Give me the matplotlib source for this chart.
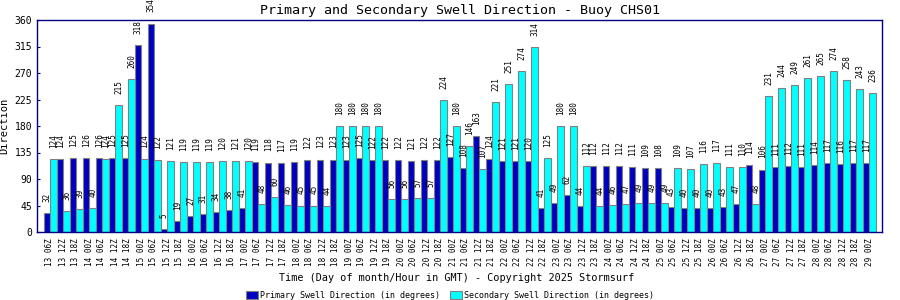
import matplotlib
matplotlib.use("Agg")
import matplotlib.pyplot as plt
from matplotlib.patches import Patch
import numpy as np

days = [13]*3 + [d for d in range(14, 29) for _ in range(4)] + [29]
hours = ["06Z", "12Z", "18Z"] + ["00Z", "06Z", "12Z", "18Z"]*15 + ["00Z"]
tick_labels = [f"{d} {h}" for d, h in zip(days, hours)]

primary = [32, 124, 125, 126, 126, 125, 125, 318, 354, 5, 19, 27, 31, 34, 38, 41,
           119, 118, 117, 119, 122, 123, 123, 123, 125, 122, 122, 122, 121, 122, 122, 127,
           108, 163, 124, 121, 121, 120, 41, 49, 62, 44, 112, 112, 112, 111, 109, 108,
           43, 40, 40, 40, 43, 47, 114, 106, 111, 112, 111, 114, 117, 116, 117, 117]
secondary = [124, 36, 39, 40, 124, 215, 260, 124, 122, 121, 119, 119, 119, 120, 121, 120,
             48, 60, 46, 45, 45, 44, 180, 180, 180, 180, 56, 56, 57, 57, 224, 180,
             146, 107, 221, 251, 274, 314, 125, 180, 180, 112, 44, 46, 47, 49, 49, 49,
             109, 107, 116, 117, 111, 110, 48, 231, 244, 249, 261, 265, 274, 258, 243, 236]

BLUE = "#0000C0"
CYAN = "#00FFFF"
EDGE = "#808080"
NAVY = "#000080"
MONO = "DejaVu Sans Mono"

fig = plt.figure(figsize=(9, 3), dpi=100)
ax = fig.add_axes([37/900, 1-232/300, (882-37)/900, (232-20)/300])

x = np.arange(len(tick_labels))
w = 0.5
b1 = ax.bar(x - w/2, primary, width=w, color=BLUE, edgecolor=EDGE, linewidth=0.8)
b2 = ax.bar(x + w/2, secondary, width=w, color=CYAN, edgecolor=EDGE, linewidth=0.8)

for bars, vals in ((b1, primary), (b2, secondary)):
    for rect, v in zip(bars, vals):
        ax.annotate(str(v), (rect.get_x() + rect.get_width()/2, v),
                    xytext=(0.5, 8), textcoords="offset points",
                    rotation=90, ha="center", va="bottom",
                    fontsize=5.5, family=MONO, color="black", annotation_clip=False)

ax.set_xlim(-1, 64)
ax.set_ylim(0, 360)
ax.set_yticks(np.arange(0, 361, 45))
ax.set_xticks(x)
ax.set_xticklabels(tick_labels, rotation=90, fontsize=5.5, family=MONO)
ax.tick_params(axis="x", length=0, pad=4.5)
ax.tick_params(axis="y", direction="in", length=2, color=NAVY, labelsize=7, pad=3.5)
for lab in ax.get_yticklabels():
    lab.set_family(MONO)
for s in ax.spines.values():
    s.set_color(NAVY)
    s.set_linewidth(1.0)

ax.set_title("Primary and Secondary Swell Direction - Buoy CHS01",
             family=MONO, fontsize=9.6, pad=4)
ax.set_ylabel("Direction", family=MONO, fontsize=7.5, labelpad=4)
fig.text(457/900, 1-278/300, "Time (Day of month/Hour in GMT) - Copyright 2025 Stormsurf",
         family=MONO, fontsize=7.3, ha="center", va="center")

handles = [Patch(facecolor=BLUE, edgecolor=EDGE, linewidth=0.8),
           Patch(facecolor=CYAN, edgecolor=EDGE, linewidth=0.8)]
fig.legend(handles, ["Primary Swell Direction (in degrees)",
                     "Secondary Swell Direction (in degrees)"],
           loc="center", bbox_to_anchor=(450/900, 1-295/300), ncol=2, frameon=False,
           prop={"family": MONO, "size": 6}, handlelength=1.4, handleheight=1.1,
           handletextpad=0.3, columnspacing=1.2, borderaxespad=0, borderpad=0)

fig.savefig("out.png", dpi=100)
